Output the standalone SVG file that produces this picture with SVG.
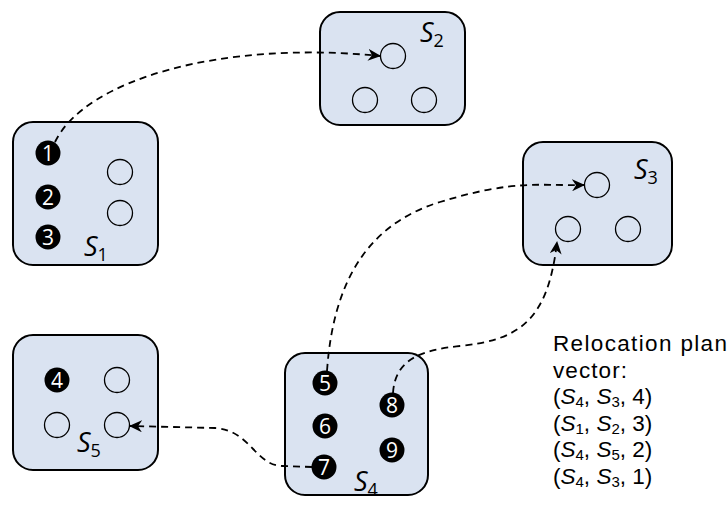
<svg xmlns="http://www.w3.org/2000/svg" width="728" height="510" viewBox="0 0 728 510">
<style>
.box{fill:#dae3f1;stroke:#000;stroke-width:2}
.e{fill:none;stroke:#000;stroke-width:1.3}
.b{fill:#000}
.n{font-family:"Open Sans","Liberation Sans",sans-serif;font-size:21px;fill:#fff;text-anchor:middle}
.s{font-family:"Open Sans","Liberation Sans",sans-serif;font-size:27px;fill:#000}
.t{font-family:"Liberation Sans",Arial,sans-serif;font-size:22.5px;fill:#000}
.c{fill:none;stroke:#000;stroke-width:1.8;stroke-dasharray:7 5}
</style>
<defs>
<marker id="ah" markerWidth="14" markerHeight="12" refX="12" refY="6" orient="auto" markerUnits="userSpaceOnUse">
<path d="M0,0 L13,6 L0,12 L4,6 z" fill="#000"/>
</marker>
</defs>
<g id="S1">
<rect class="box" x="13" y="122" width="145" height="143" rx="20"/>
<circle class="b" cx="48" cy="153" r="12.5"/><text class="n" x="48" y="160.5">1</text>
<circle class="b" cx="48" cy="197" r="12.5"/><text class="n" x="48" y="204.5">2</text>
<circle class="b" cx="48" cy="237" r="12.5"/><text class="n" x="48" y="244.5">3</text>
<circle class="e" cx="120" cy="172" r="12.5"/>
<circle class="e" cx="120" cy="213" r="12.5"/>
<text class="s" x="84" y="256"><tspan font-style="italic">S</tspan><tspan font-size="18" dy="5">1</tspan></text>
</g>
<g id="S2">
<rect class="box" x="320" y="12" width="145" height="113" rx="20"/>
<circle class="e" cx="393" cy="56" r="12.5"/>
<circle class="e" cx="365" cy="100" r="12.5"/>
<circle class="e" cx="424" cy="100" r="12.5"/>
<text class="s" x="420" y="42"><tspan font-style="italic">S</tspan><tspan font-size="18" dy="5">2</tspan></text>
</g>
<g id="S3">
<rect class="box" x="523" y="142" width="149" height="123" rx="20"/>
<circle class="e" cx="597" cy="185" r="12.5"/>
<circle class="e" cx="568" cy="229" r="12.5"/>
<circle class="e" cx="628" cy="229" r="12.5"/>
<text class="s" x="634" y="179"><tspan font-style="italic">S</tspan><tspan font-size="18" dy="5">3</tspan></text>
</g>
<g id="S5">
<rect class="box" x="13" y="335" width="145" height="135" rx="20"/>
<circle class="b" cx="57" cy="380" r="12.5"/><text class="n" x="57" y="387.5">4</text>
<circle class="e" cx="117" cy="380" r="12.5"/>
<circle class="e" cx="57" cy="425" r="12.5"/>
<circle class="e" cx="117" cy="425" r="12.5"/>
<text class="s" x="77" y="452"><tspan font-style="italic">S</tspan><tspan font-size="18" dy="5">5</tspan></text>
</g>
<g id="S4">
<rect class="box" x="285" y="353" width="143" height="142" rx="20"/>
<circle class="b" cx="325" cy="383" r="12.5"/><text class="n" x="325" y="390.5">5</text>
<circle class="b" cx="325" cy="426" r="12.5"/><text class="n" x="325" y="433.5">6</text>
<circle class="b" cx="324" cy="467" r="12.5"/><text class="n" x="324" y="474.5">7</text>
<circle class="b" cx="392" cy="405" r="12.5"/><text class="n" x="392" y="412.5">8</text>
<circle class="b" cx="392" cy="450" r="12.5"/><text class="n" x="392" y="457.5">9</text>
<text class="s" x="354" y="491"><tspan font-style="italic">S</tspan><tspan font-size="18" dy="5">4</tspan></text>
</g>
<g id="connectors">
<path class="c" d="M55,142 C85,80 220,40 380,56" marker-end="url(#ah)"/>
<path class="c" d="M327,371 C333,285 365,225 440,202 S540,186 584,185" marker-end="url(#ah)"/>
<path class="c" d="M393,393 C395,360 420,350 460,346 C520,340 548,320 557,242" marker-end="url(#ah)"/>
<path class="c" d="M312,467 L282,466 C255,465 250,430 215,428 L130,426" marker-end="url(#ah)"/>
</g>
<g id="plan">
<text class="t" x="553" y="351" textLength="174" lengthAdjust="spacing">Relocation plan</text>
<text class="t" x="553" y="378" textLength="74" lengthAdjust="spacing">vector:</text>
<text class="t" x="553" y="404">(<tspan font-style="italic">S</tspan><tspan font-size="15" dy="3">4</tspan><tspan dy="-3">, </tspan><tspan font-style="italic">S</tspan><tspan font-size="15" dy="3">3</tspan><tspan dy="-3">, 4)</tspan></text>
<text class="t" x="553" y="431">(<tspan font-style="italic">S</tspan><tspan font-size="15" dy="3">1</tspan><tspan dy="-3">, </tspan><tspan font-style="italic">S</tspan><tspan font-size="15" dy="3">2</tspan><tspan dy="-3">, 3)</tspan></text>
<text class="t" x="553" y="457">(<tspan font-style="italic">S</tspan><tspan font-size="15" dy="3">4</tspan><tspan dy="-3">, </tspan><tspan font-style="italic">S</tspan><tspan font-size="15" dy="3">5</tspan><tspan dy="-3">, 2)</tspan></text>
<text class="t" x="553" y="484">(<tspan font-style="italic">S</tspan><tspan font-size="15" dy="3">4</tspan><tspan dy="-3">, </tspan><tspan font-style="italic">S</tspan><tspan font-size="15" dy="3">3</tspan><tspan dy="-3">, 1)</tspan></text>
</g>
</svg>
